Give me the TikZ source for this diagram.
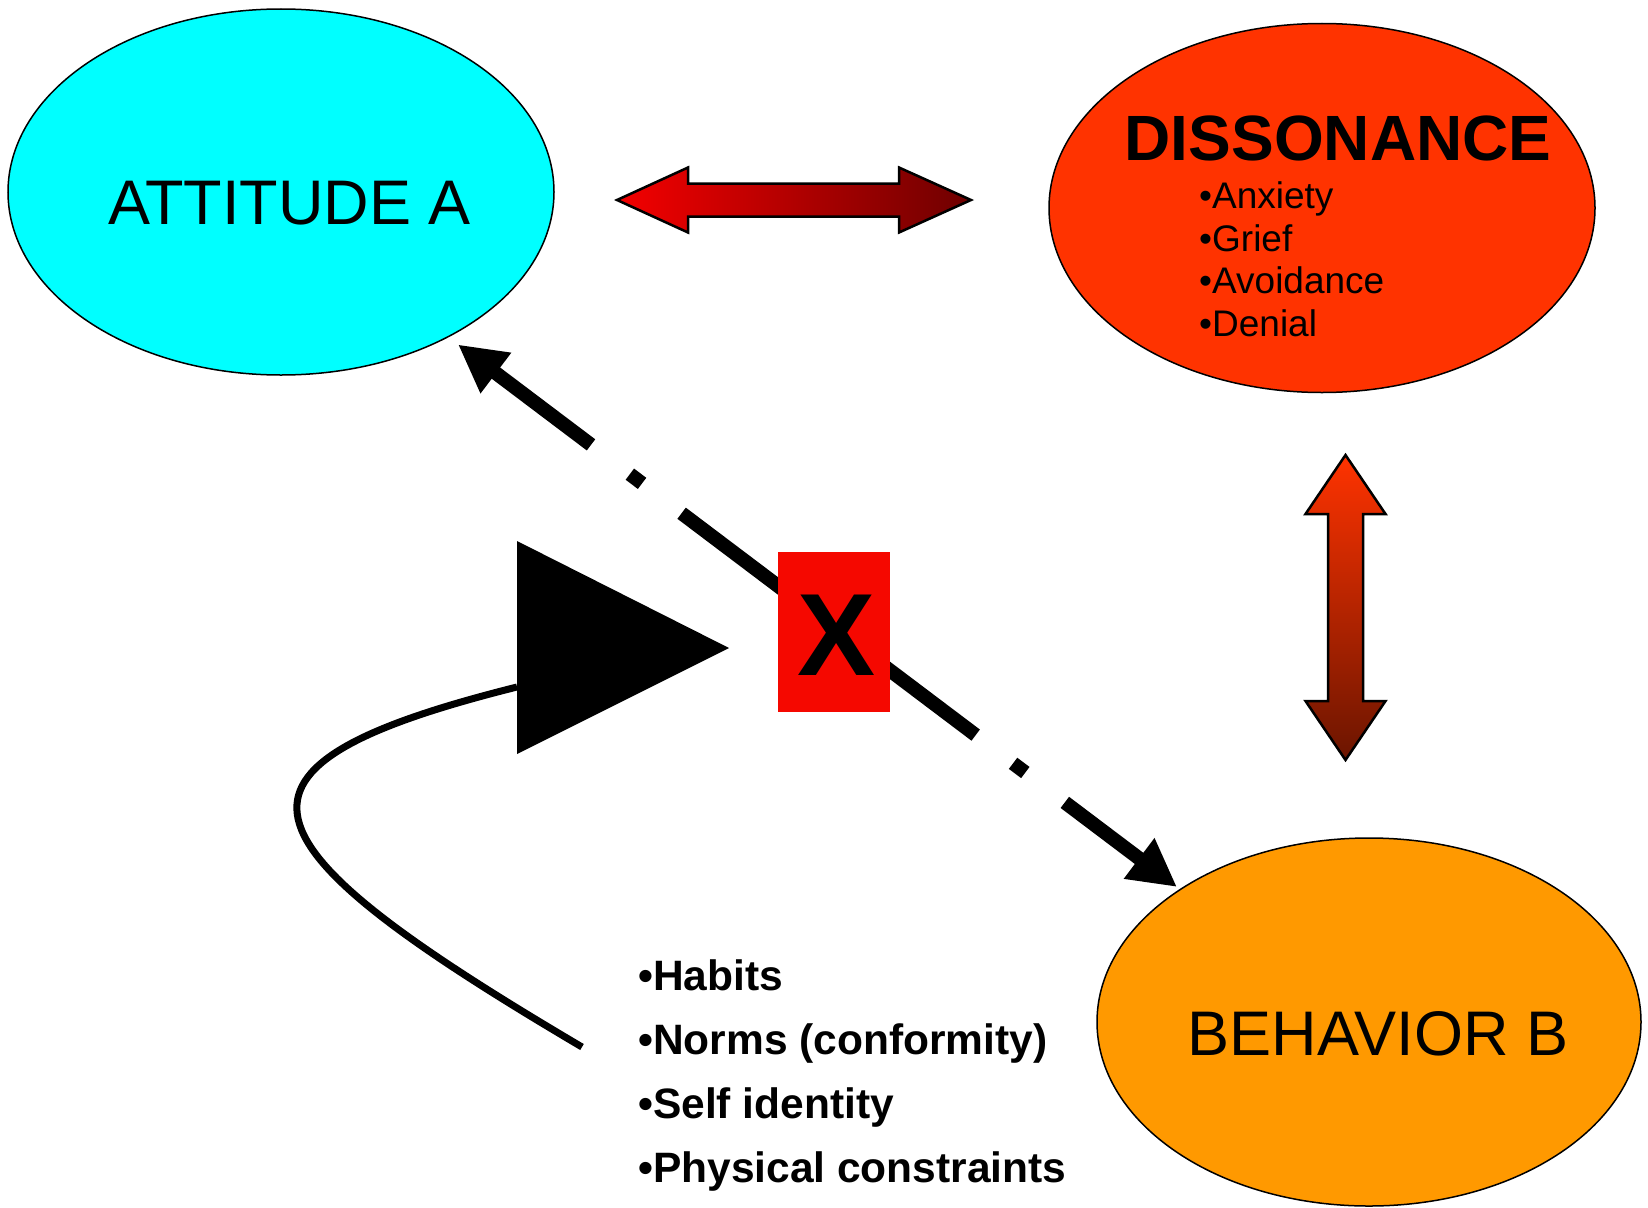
\documentclass[tikz,border=0pt]{standalone}
\usepackage{fontspec}
\setmainfont{Liberation Sans}
\usetikzlibrary{shapes.geometric,arrows.meta,calc}
\definecolor{attcyan}{HTML}{00FFFF}
\definecolor{disred}{HTML}{FF3300}
\definecolor{behorange}{HTML}{FF9900}
\definecolor{boxred}{HTML}{F50800}
\definecolor{harrowL}{HTML}{F40000}
\definecolor{harrowM}{HTML}{BE0000}
\definecolor{harrowR}{HTML}{6E0000}
\definecolor{varrowT}{HTML}{FF3300}
\definecolor{varrowB}{HTML}{6B1500}
\begin{document}
\begin{tikzpicture}[x=1pt,y=-1pt,
  bubble/.style={ellipse, draw=black, line width=1.5pt, inner sep=0pt},
  bigtext/.style={font=\fontsize{63}{70}\selectfont, anchor=base, inner sep=0pt},
  subitem/.style={font=\fontsize{37}{40}\selectfont, anchor=base west, inner sep=0pt},
  factor/.style={font=\bfseries\fontsize{42.5}{48}\selectfont, anchor=base west, inner sep=0pt},
  link/.style={line width=14pt, line cap=butt},
  linktip/.style={-{Triangle[length=47.5pt,width=47.5pt]}},
  blockarrow/.style={draw=black, line width=2.5pt, line join=miter}
]
\useasboundingbox (0,0) rectangle (1648,1207);

% ellipses
\node[bubble, fill=attcyan, minimum width=546pt, minimum height=366pt] (att) at (281,192) {};
\node[bubble, fill=disred, minimum width=546pt, minimum height=369pt] (dis) at (1322,208) {};
\node[bubble, fill=behorange, minimum width=544pt, minimum height=368pt] (beh) at (1369,1022) {};

% block arrows
\path[blockarrow, left color=harrowL, middle color=harrowM, right color=harrowR]
  (617,200) -- (688,167.5) -- (688,183.5) -- (899,183.5) -- (899,167.5) -- (971,200)
  -- (899,232.5) -- (899,216.5) -- (688,216.5) -- (688,232.5) -- cycle;
\path[blockarrow, top color=varrowT, bottom color=varrowB]
  (1345.5,455) -- (1385.5,514) -- (1363,514) -- (1363,701) -- (1385.5,701) -- (1345.5,760)
  -- (1305.5,701) -- (1328,701) -- (1328,514) -- (1305.5,514) -- cycle;

% dash-dot connector
\coordinate (a1) at (458,344.5);
\coordinate (b1) at (1177,887);
\draw[link, linktip] ($(a1)!0.185!(b1)$) -- (a1);
\draw[link] ($(a1)!0.239!(b1)$) -- ($(a1)!0.256!(b1)$);
\draw[link] ($(a1)!0.311!(b1)$) -- ($(a1)!0.72!(b1)$);
\draw[link] ($(a1)!0.772!(b1)$) -- ($(a1)!0.789!(b1)$);
\draw[link, linktip] ($(a1)!0.844!(b1)$) -- (b1);

% curve with big arrowhead
\coordinate (tback) at (517,687);
\coordinate (cstart) at (582,1047);
\draw[line width=7pt] (cstart) .. controls (232,840.5) and (197,767) .. (tback);
\fill[black] (517,541) -- (729,648) -- (517,754) -- cycle;

% red box
\node[fill=boxred, minimum width=112pt, minimum height=160pt, inner sep=0pt] (xbox) at (834,632) {};
\node[font=\bfseries\fontsize{117}{120}\selectfont, anchor=base, inner sep=0pt] (xmark) at (836.5,675.5) {X};

% texts
\node[bigtext] (atttext) at (289.5,224) {ATTITUDE A};
\node[bigtext, font=\bfseries\fontsize{64}{70}\selectfont] (distitle) at (1338,160.5) {DISSONANCE};
\node[subitem] (d1) at (1199,208) {•Anxiety};
\node[subitem] (d2) at (1199,251) {•Grief};
\node[subitem] (d3) at (1199,293.5) {•Avoidance};
\node[subitem] (d4) at (1199,336) {•Denial};
\node[bigtext] (behtext) at (1378,1055) {BEHAVIOR B};
\node[factor] (f1) at (638,990) {•Habits};
\node[factor] (f2) at (638,1054) {•Norms (conformity)};
\node[factor] (f3) at (638,1118) {•Self identity};
\node[factor] (f4) at (638,1182) {•Physical constraints};
\end{tikzpicture}
\end{document}
